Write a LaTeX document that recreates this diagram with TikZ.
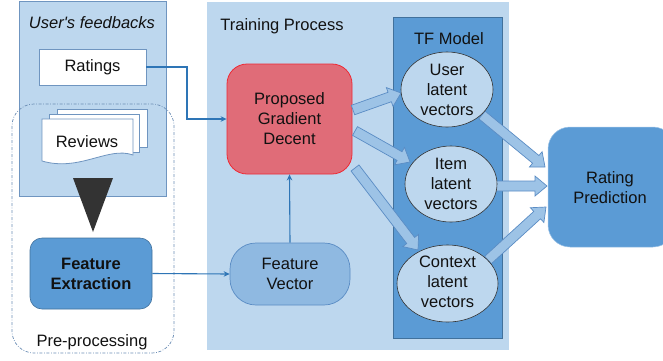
\documentclass[tikz,border=0pt]{standalone}
\usepackage{fontspec}
\setmainfont{Liberation Sans}
\usetikzlibrary{shapes.geometric,arrows.meta,calc}

\definecolor{paleblue}{HTML}{BDD7EE}
\definecolor{midblue}{HTML}{5B9BD5}
\definecolor{edgeblue}{HTML}{41719C}
\definecolor{arrowfill}{HTML}{9DC3E6}
\definecolor{arrowedge}{HTML}{5A8CC4}
\definecolor{wire}{HTML}{2E75B6}
\definecolor{gdfill}{HTML}{E06C78}
\definecolor{gdedge}{HTML}{EE2A35}
\definecolor{fvfill}{HTML}{8FB9E1}
\definecolor{dashcol}{HTML}{6C8EB5}
\definecolor{docedge}{HTML}{6F95C0}
\definecolor{darkwedge}{HTML}{333333}
\definecolor{ink}{HTML}{111111}

% block arrow from #1 (tail) to #2 (tip)
\newcommand\blockarrow[2]{%
  \coordinate (ba-c) at ($(#2)!12pt!(#1)$);
  \filldraw[fill=arrowfill, draw=arrowedge, line width=0.7pt, line join=miter]
    ($(#1)!5pt!90:(#2)$) -- ($(ba-c)!5pt!-90:(#1)$) -- ($(ba-c)!10pt!-90:(#1)$)
    -- (#2) -- ($(ba-c)!10pt!90:(#1)$) -- ($(ba-c)!5pt!90:(#1)$)
    -- ($(#1)!5pt!-90:(#2)$) -- cycle;}

\begin{document}
\begin{tikzpicture}[x=1pt, y=-1pt,
  font=\fontsize{16.5}{20}\selectfont, text=ink,
  panel/.style={rectangle, inner sep=0pt, anchor=north west},
  rbox/.style={rectangle, rounded corners=#1, inner sep=0pt, align=center},
  latent/.style={ellipse, fill=paleblue, draw=darkwedge, line width=0.6pt,
    inner sep=0pt},
  wirearrow/.style={draw=wire, line width=1.1pt,
    -{Stealth[length=6pt,width=5.5pt]}},
  doc/.style={fill=white, draw=docedge, line width=0.8pt}]

\useasboundingbox (0,0) rectangle (663,360);

% containers
\node[panel, fill=paleblue, minimum width=302, minimum height=348] (train) at (207,2) {};
\node[panel, fill=paleblue, draw=docedge, line width=0.8pt,
  minimum width=147, minimum height=195.5] (feed) at (19,0.5) {};
\node[panel, fill=midblue, draw=edgeblue, line width=0.6pt,
  minimum width=109, minimum height=321] (tf) at (393,17) {};

\node (feedtitle) at (92,23) {\itshape User\textquotesingle s feedbacks};
\node (traintitle) at (282,26) {Training Process};
\node (tftitle) at (449,39) {TF Model};

% pre-processing frame
\draw[dashcol, line width=0.7pt, rounded corners=22,
  dash pattern=on 3pt off 1.6pt on 0.8pt off 1.6pt] (12,104) rectangle (174,353);
\node (pretitle) at (92,342) {Pre-processing};

% ratings
\node[rectangle, fill=white, draw=docedge, line width=0.8pt,
  minimum width=107, minimum height=36] (ratings) at (92.5,67) {\raisebox{-1pt}{Ratings}};

% stacked review documents
\draw[doc] (57,109) rectangle (147,147);
\draw[doc] (49,114) rectangle (139,152);
\draw[doc] (42,119) -- (133,119) -- (133,155)
  .. controls (108,146) and (80,172) .. (42,161) -- cycle;
\node (reviews) at (87,142) {Reviews};

% funnel wedge
\fill[darkwedge] (73,178) -- (113,178) -- (93,232) -- cycle;

% processing nodes
\node[rbox=12, fill=midblue, draw=edgeblue, line width=0.6pt,
  minimum width=122, minimum height=71, font=\fontsize{16.5}{20}\selectfont\bfseries]
  (fe) at (91,273.5) {Feature\\Extraction};
\node[rbox=20, fill=gdfill, draw=gdedge, line width=0.8pt,
  minimum width=125, minimum height=110] (gd) at (289.5,119) {Proposed\\Gradient\\Decent};
\node[rbox=26, fill=fvfill, draw=arrowedge, line width=0.7pt,
  minimum width=120, minimum height=62] (fv) at (290,274) {Feature\\Vector};

% block arrow end points
\coordinate (gd-u) at (353,110);
\coordinate (gd-i) at (355,131);
\coordinate (gd-c) at (355,168);
\coordinate (u-in) at (401,93);
\coordinate (i-in) at (410,162);
\coordinate (c-in) at (418,250);
\coordinate (u-out) at (482,115);
\coordinate (i-out) at (496,186);
\coordinate (c-out) at (488,260);
\coordinate (rp-u) at (545,167);
\coordinate (rp-i) at (547,186);
\coordinate (rp-c) at (546,207);

\blockarrow{gd-u}{u-in}
\blockarrow{gd-i}{i-in}
\blockarrow{gd-c}{c-in}
\blockarrow{u-out}{rp-u}
\blockarrow{i-out}{rp-i}
\blockarrow{c-out}{rp-c}

% latent factor ellipses
\node[latent, minimum width=92, minimum height=75] (user) at (447,89.5) {};
\node[align=center] at (user) {User\\latent\\vectors};
\node[latent, minimum width=92, minimum height=76] (item) at (451,184) {};
\node[align=center] at (item) {Item\\latent\\vectors};
\node[latent, minimum width=101, minimum height=77] (ctx) at (447.5,283.5) {};
\node[align=center] at ([yshift=1.5pt]ctx.center) {Context\\latent\\vectors};

% prediction
\node[rbox=22, fill=midblue, draw=arrowfill, line width=0.5pt,
  minimum width=127, minimum height=120] (rp) at (611.5,187) {};
\node[align=center] at (610,187.5) {Rating\\Prediction};

% thin connectors
\coordinate (bend) at (187,67);
\draw[wirearrow] (ratings.east) -- (bend) |- (gd.west);
\draw[wirearrow] (fe.east) -- (fv.west);
\draw[wirearrow] (fv.north) -- (gd.south);

\end{tikzpicture}
\end{document}
